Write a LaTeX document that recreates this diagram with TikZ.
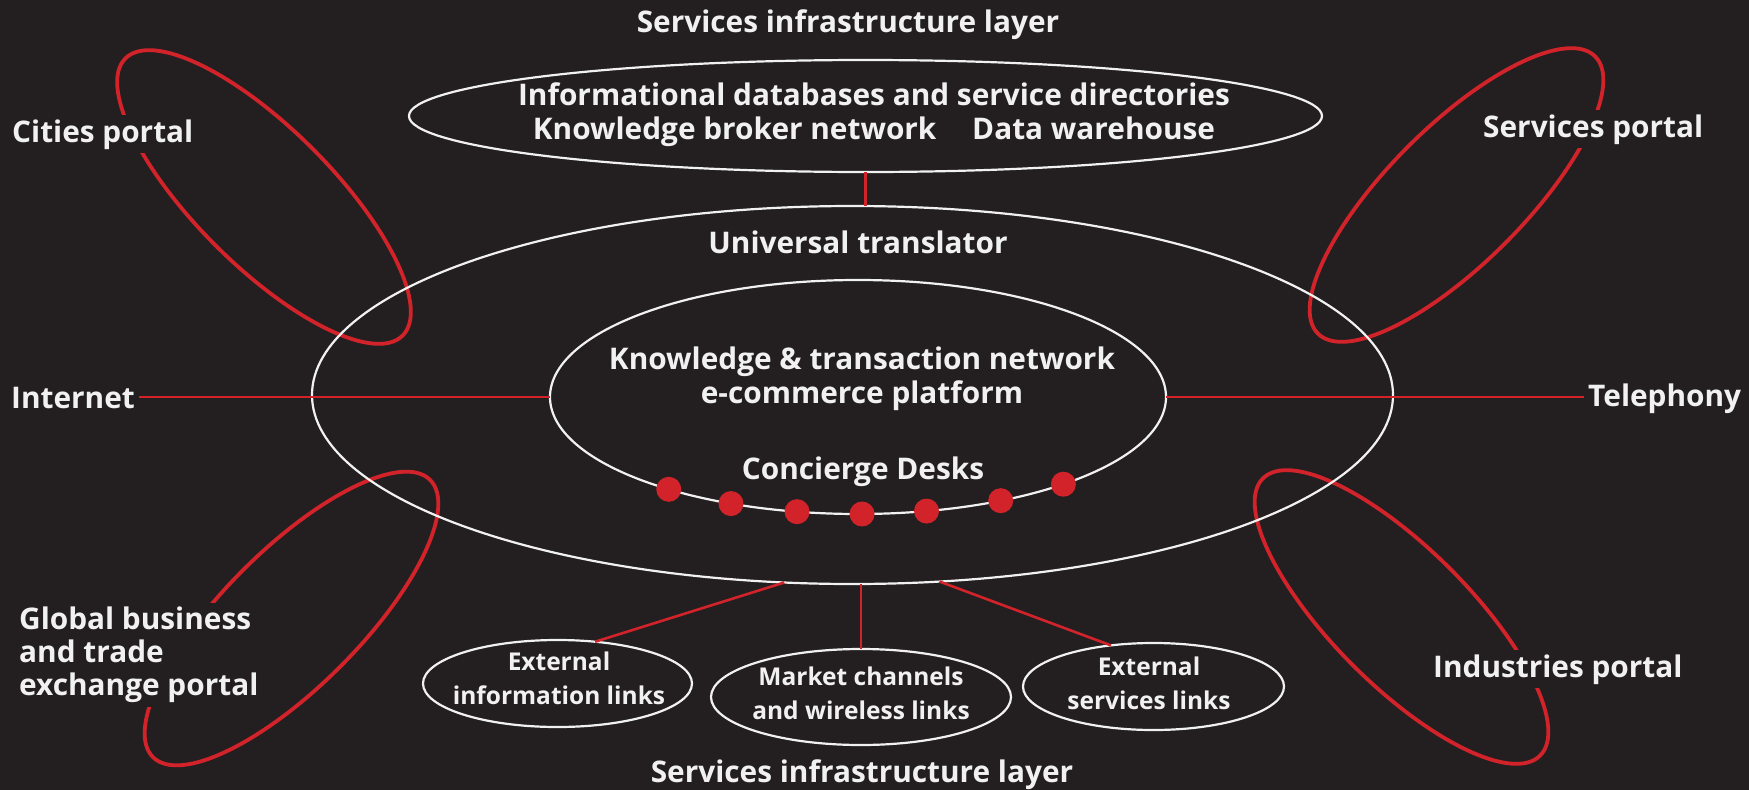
\documentclass[tikz,border=0pt]{standalone}
\usepackage{fontspec}
\setmainfont{Open Sans}
\usetikzlibrary{shapes.geometric}
\definecolor{bg}{HTML}{231F20}
\definecolor{rd}{HTML}{D2232A}
\definecolor{wt}{HTML}{F1F1F2}
\begin{document}
\begin{tikzpicture}[x=1pt,y=-1pt,
  wl/.style={draw=wt, line width=2.2pt},
  rl/.style={draw=rd, line width=2.6pt},
  shell/.style={ellipse, wl, inner sep=0pt, outer sep=0pt},
  portal/.style={ellipse, draw=rd, line width=3.8pt, inner sep=0pt, outer sep=0pt, minimum width=392pt, minimum height=137pt},
  txt/.style={text=wt, font=\bfseries\fontsize{29.8}{34}\selectfont, align=center, inner sep=0pt},
  lbl/.style={text=wt, font=\bfseries\fontsize{29.8}{33}\selectfont, align=left, fill=bg, inner sep=4pt},
  small/.style={text=wt, font=\bfseries\fontsize{24.5}{34}\selectfont, align=center, inner sep=0pt},
  dot/.style={circle, fill=rd, minimum size=25pt, inner sep=0pt}]
\fill[bg] (0,0) rectangle (1749,790);
\useasboundingbox (0,0) rectangle (1749,790);
% portals
\node[portal, rotate=-45] (pc) at (264,197) {};
\node[portal, rotate=45] (ps) at (1456.5,195) {};
\node[portal, rotate=45] (pg) at (291.5,618.5) {};
\node[portal, rotate=-45] (pi) at (1401.5,617) {};
% white ellipses
\node[shell, minimum width=913pt, minimum height=112pt] (db) at (865.5,116) {};
\node[shell, minimum width=1081pt, minimum height=378pt] (ut) at (852.5,395) {};
\node[shell, minimum width=616pt, minimum height=234pt] (kt) at (858,397) {};
\node[shell, minimum width=269pt, minimum height=87pt] (ext1) at (557.5,683.5) {};
\node[shell, minimum width=300pt, minimum height=96pt] (mkt) at (861,697) {};
\node[shell, minimum width=261pt, minimum height=87pt] (ext3) at (1153.5,686.5) {};
% connectors
\draw[rl] (db.south) -- (db.south |- ut.north);
\draw[rl] (ut.-110) -- (ext1.48);
\draw[rl] (mkt.north) -- (mkt.north |- ut.south);
\draw[rl] (ut.-65) -- (ext3.136);
% concierge desks
\foreach \a [count=\i] in {-154,-140,-118,-88,-59,-36.5,-23} {
  \node[dot] (d\i) at (kt.\a) {};
}
% texts
\node[txt, anchor=base] (t1) at (848,32) {Services infrastructure layer};
\node[txt] (dbtxt) at (874,115) {Informational databases and service directories\\Knowledge broker network\hspace{1.2em}Data warehouse};
\node[txt, anchor=base] (uttxt) at (858,253) {Universal translator};
\node[txt] (kttxt) at (862,379) {Knowledge \& transaction network\\e-commerce platform};
\node[txt, anchor=base] (cd) at (863,479) {Concierge Desks};
\node[small] (ext1txt) at (559,678) {External\\information links};
\node[small] (mkttxt) at (861,693) {Market channels\\and wireless links};
\node[small] (ext3txt) at (1149,683) {External\\services links};
\node[txt, anchor=base] (t2) at (862,782) {Services infrastructure layer};
% portal labels
\node[lbl, anchor=base west] (lc) at (8,142) {Cities portal};
\node[lbl, anchor=base west] (ls) at (1479,137) {Services portal};
\node[lbl, anchor=base west] (li) at (1429,677) {Industries portal};
\node[lbl, anchor=west] (lg) at (15,655) {Global business\\and trade\\exchange portal};
\node[lbl, anchor=base west] (inet) at (7,408) {Internet};
\node[lbl, anchor=base west] (tel) at (1584,406) {Telephony};
\draw[rl] (kt.west) -- (kt.west -| inet.east);
\draw[rl] (kt.east) -- (kt.east -| tel.west);
\end{tikzpicture}
\end{document}
